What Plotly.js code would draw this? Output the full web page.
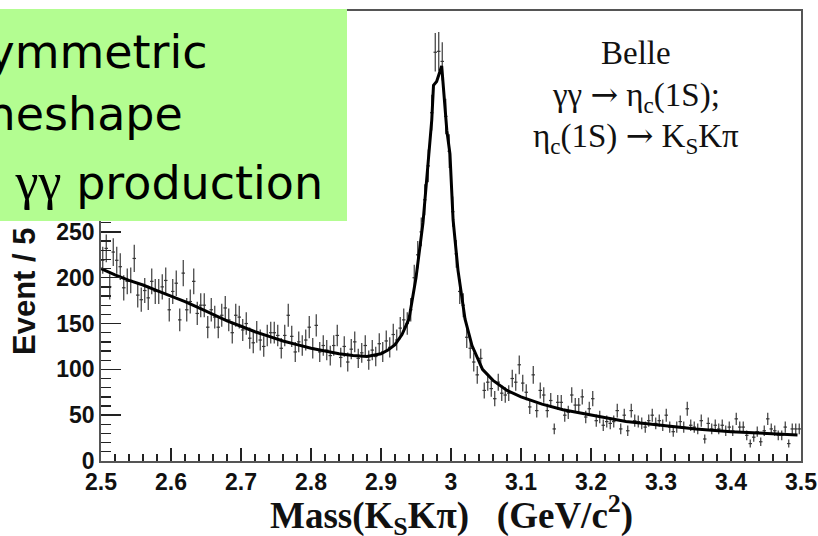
<!DOCTYPE html>
<html><head><meta charset="utf-8">
<script src="https://cdn.plot.ly/plotly-3.0.1.min.js"></script>
<style>html,body{margin:0;padding:0;background:#fff}#chart{width:818px;height:536px}</style>
</head><body><div id="chart"></div>
<script>
// Histogram: 200 bins of 5 MeV from 2.5 to 3.5 GeV
const binFirstCenter = 2.5025;
const binWidth = 0.005;
const counts = [
219,232,190,228,219,212,189,196,197,221,181,176,186,178,196,185,185,190,197,165,
185,194,154,205,165,174,196,161,170,170,146,165,157,146,159,167,154,140,159,157,
143,150,134,129,141,132,125,137,140,140,137,123,137,159,136,119,130,126,132,146,
123,148,119,126,121,115,126,137,
113,125,108,122,130,112,118,126,110,121,114,128,119,131,124,138,132,
145,154,150,165,200,225,250,285,322,380,446,447,436,376,338,272,226,185,170,
135,123,108,94,112,77,86,79,68,86,74,72,74,90,86,105,85,75,59,94,
55,77,72,55,66,35,64,64,50,53,72,61,61,70,48,57,68,44,48,39,
43,41,43,55,35,50,33,55,44,43,41,37,44,50,41,44,39,50,37,32,
37,43,37,57,39,37,35,44,24,41,35,39,35,39,33,37,33,46,37,37,
28,19,26,32,21,33,46,35,33,28,28,37,19,35,35,35
];
// Fit curve
const fitX = [2.50,2.52,2.54,2.56,2.58,2.60,2.62,2.64,2.66,2.68,2.70,2.72,2.74,2.76,2.78,2.80,2.82,2.84,2.86,2.88,2.90,2.91,2.92,2.93,2.94,2.95,2.96,2.967,2.9725,2.975,2.9795,2.9867,2.989,2.994,2.9985,3.003,3.010,3.020,3.030,3.045,3.06,3.08,3.10,3.13,3.16,3.20,3.25,3.30,3.35,3.40,3.45,3.495];
const fitY = [210,203,197,192,186,180,174,167,160,153,147,141,136,131,127,123,120,117,115,114,117,121,127,138,155,200,260,318,372,410,414,431,409,361,335,263,208,155,126,100,88,77,70,62,56,50,43,39,35,32,30,28.5];

const yTickVals = [0,50,100,150,200,250];
const yTickText = ['0','50','100','150','200','250'];
const xTitle = 'Mass(K<sub>S</sub>Kπ)\u00a0\u00a0\u00a0(GeV/c<sup>2</sup>)';
const yTitle = 'Event / 5';
const arrow = '<span style="font-family:\'DejaVu Serif\'">→</span>';
const noteLines = ['Belle', 'γγ ' + arrow + ' η<sub>c</sub>(1S);', 'η<sub>c</sub>(1S) ' + arrow + ' K<sub>S</sub>Kπ'];
const boxLines = ['Asymmetric', 'lineshape', 'in <span style="font-family:\'Liberation Serif\';font-size:52px">γγ</span> production'];

const W=818,H=536,L=101,R=17,T=11,B=75;
const pw=W-L-R, ph=H-T-B;
const px = v => (v-L)/pw;
const py = v => (H-B-v)/ph;

const data = [
  {type:'scatter', mode:'markers', x0:binFirstCenter, dx:binWidth, y:counts,
   marker:{size:1,color:'#333'},
   error_y:{type:'sqrt', color:'#3a3a3a', thickness:1.2, width:0},
   error_x:{type:'constant', value:binWidth/2, color:'#3a3a3a', thickness:1.2, width:0},
   hoverinfo:'skip', showlegend:false},
  {type:'scatter', mode:'lines', x:fitX, y:fitY, line:{color:'#000', width:3}, showlegend:false}
];

const tickFont = {family:'Liberation Sans, Arial, sans-serif', size:23, color:'#111', weight:'bold'};
const boxFont = {family:'DejaVu Sans, sans-serif', size:46, color:'#000'};
const serif = {family:'Liberation Serif, Times New Roman, serif', size:33, color:'#111'};

const layout = {
  width:W, height:H, margin:{l:L,r:R,t:T,b:B,pad:0},
  paper_bgcolor:'#fff', plot_bgcolor:'#fff', showlegend:false,
  xaxis:{range:[2.5,3.5], tick0:2.5, dtick:0.1, ticks:'inside', ticklen:13, tickwidth:1.5, tickcolor:'#222',
    minor:{dtick:0.02, ticks:'inside', ticklen:7, tickwidth:1.3, tickcolor:'#222', showgrid:false},
    showline:true, linecolor:'#555', linewidth:1.8, mirror:true, showgrid:false, zeroline:false,
    tickfont:tickFont},
  yaxis:{range:[0,491], tickmode:'array', tickvals:yTickVals, ticktext:yTickText, ticks:'inside', ticklen:20, tickwidth:1.5, tickcolor:'#222',
    minor:{dtick:10, tick0:0, ticks:'inside', ticklen:10, tickwidth:1.3, tickcolor:'#222', showgrid:false},
    showline:true, linecolor:'#555', linewidth:1.8, mirror:true, showgrid:false, zeroline:false,
    tickfont:tickFont},
  shapes:[{type:'rect', xref:'paper', yref:'paper', layer:'above',
    x0:px(-2), x1:px(347), y0:py(221), y1:py(9), fillcolor:'#b3fd91', line:{width:0}}],
  annotations:[
    {xref:'paper', yref:'paper', x:px(24), y:py(291), text:yTitle, textangle:-90, showarrow:false,
     xanchor:'center', yanchor:'middle', font:{family:'Liberation Sans, Arial, sans-serif', size:31, color:'#111', weight:'bold'}},
    {xref:'paper', yref:'paper', x:px(210), y:py(52), text:boxLines[0], showarrow:false, xanchor:'right', yanchor:'middle', font:boxFont},
    {xref:'paper', yref:'paper', x:px(185), y:py(114), text:boxLines[1], showarrow:false, xanchor:'right', yanchor:'middle', font:boxFont},
    {xref:'paper', yref:'paper', x:px(325), y:py(181), text:boxLines[2], showarrow:false, xanchor:'right', yanchor:'middle', font:boxFont},
    {xref:'paper', yref:'paper', x:px(636), y:py(53), text:noteLines[0], showarrow:false, xanchor:'center', yanchor:'middle', font:serif},
    {xref:'paper', yref:'paper', x:px(636), y:py(96), text:noteLines[1], showarrow:false, xanchor:'center', yanchor:'middle', font:serif},
    {xref:'paper', yref:'paper', x:px(636), y:py(137), text:noteLines[2], showarrow:false, xanchor:'center', yanchor:'middle', font:serif},
    {xref:'paper', yref:'paper', x:0.5, y:py(515), text:xTitle, showarrow:false, xanchor:'center', yanchor:'middle',
     font:{family:'Liberation Serif, Times New Roman, serif', size:37, color:'#111', weight:'bold'}}
  ]
};
Plotly.newPlot('chart', data, layout, {displayModeBar:false, staticPlot:true});
</script></body></html>
